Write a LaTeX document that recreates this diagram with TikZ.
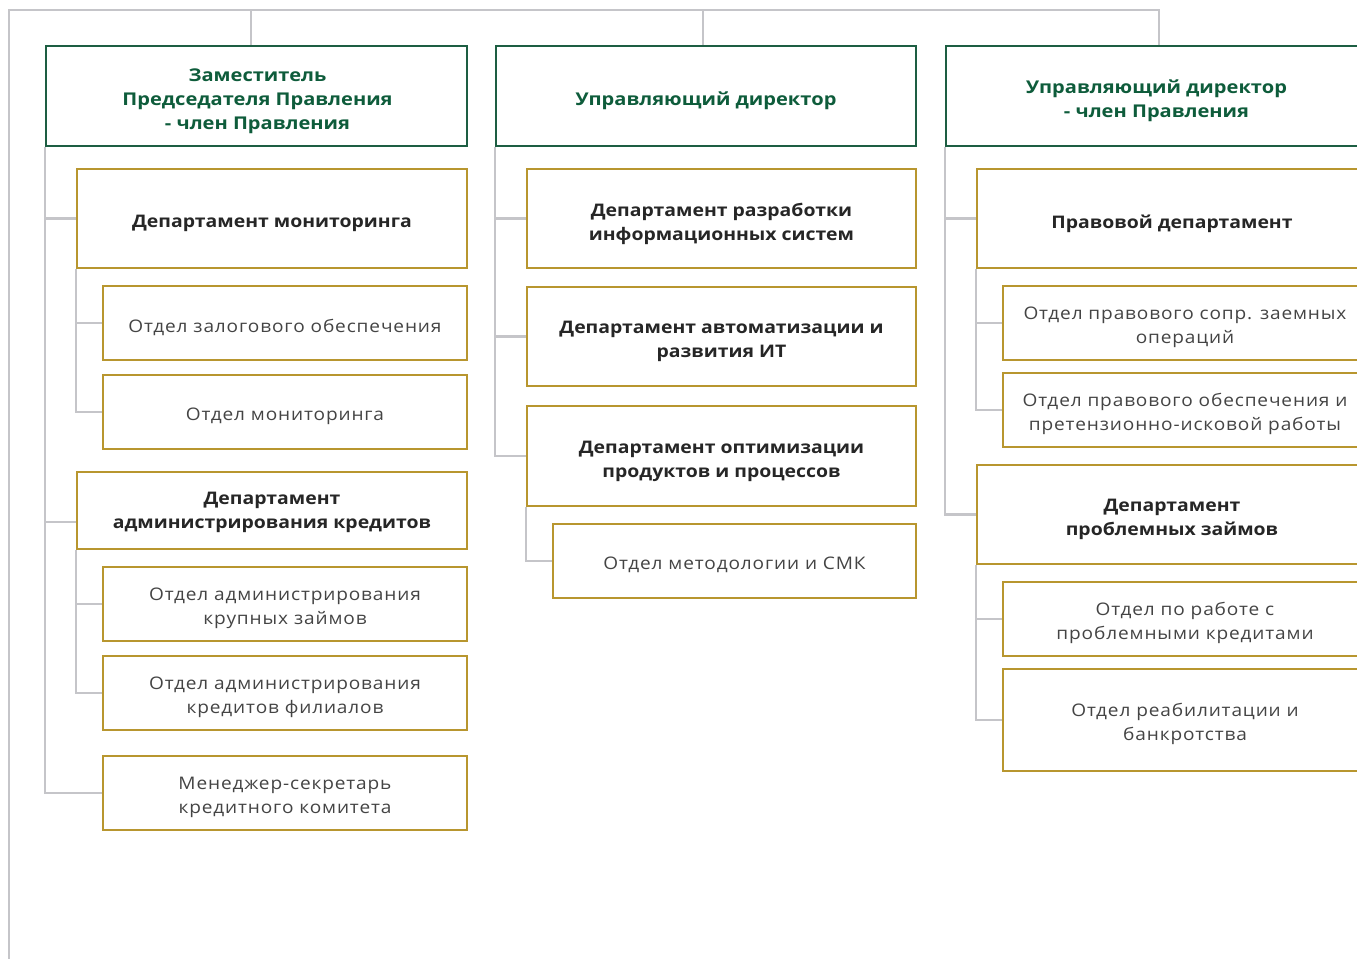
\documentclass[tikz,border=0pt]{standalone}
\usepackage{fontspec}
\setmainfont{Open Sans}
\newfontfamily\boldface[FakeStretch=1.12]{Open Sans}
\newfontfamily\greenface[FakeStretch=1.14]{Open Sans}
\newfontfamily\lightface[FakeStretch=1.1,LetterSpace=5]{Open Sans}
\usetikzlibrary{fit,backgrounds}
\definecolor{grn}{HTML}{1D5E43}
\definecolor{grntxt}{HTML}{0E5C3B}
\definecolor{gold}{HTML}{B8962F}
\definecolor{lgray}{HTML}{C5C5C9}
\definecolor{dtxt}{HTML}{262626}
\definecolor{ltxt}{HTML}{444444}
\tikzset{
  gbox/.style={draw=grn, line width=1.8pt, fill=white, inner sep=0pt},
  dbox/.style={draw=gold, line width=1.8pt, fill=white, inner sep=0pt},
  obox/.style={draw=gold, line width=1.8pt, fill=white, inner sep=0pt},
  gtext/.style={align=center, inner sep=0pt, yshift=-3.7pt, text=grntxt, font=\greenface\bfseries\fontsize{13.2}{18}\selectfont},
  dtext/.style={align=center, inner sep=0pt, yshift=-3.7pt, text=dtxt, font=\boldface\bfseries\fontsize{13}{18}\selectfont},
  otext/.style={align=center, inner sep=0pt, yshift=-3.2pt, text=ltxt, font=\lightface\fontsize{13}{18}\selectfont},
  gline/.style={draw=lgray, line width=1.8pt}
}
\begin{document}
\begin{tikzpicture}[x=0.75pt,y=-0.75pt]
\useasboundingbox (0,0) rectangle (1357,959);
\clip (0,0) rectangle (1357,959);
% top-level boxes
\node[gbox, fit={(46,46)(467,146)}] (g1) {};
\node[gtext] (g1t) at ([xshift=0.75pt]g1.center) {Заместитель\\Председателя Правления\\- член Правления};
\node[gbox, fit={(496,46)(916,146)}] (g2) {};
\node[gtext] (g2t) at (g2.center) {Управляющий директор};
\node[gbox, fit={(946,46)(1367,146)}] (g3) {};
\node[gtext] (g3t) at (g3.center) {Управляющий директор\\- член Правления};
% column 1
\node[dbox, fit={(77,169)(467,268)}] (d1) {};
\node[dtext] (d1t) at (d1.center) {Департамент мониторинга};
\node[obox, fit={(103,286)(467,360)}] (o11) {};
\node[otext] (o11t) at (o11.center) {Отдел залогового обеспечения};
\node[obox, fit={(103,375)(467,449)}] (o12) {};
\node[otext] (o12t) at (o12.center) {Отдел мониторинга};
\node[dbox, fit={(77,472)(467,549)}] (d2) {};
\node[dtext, yshift=2pt] (d2t) at (d2.center) {Департамент\\администрирования кредитов};
\coordinate (d2c) at ([yshift=-8.6pt]d2.west);
\node[obox, fit={(103,567)(467,641)}] (o21) {};
\node[otext] (o21t) at (o21.center) {Отдел администрирования\\крупных займов};
\node[obox, fit={(103,656)(467,730)}] (o22) {};
\node[otext] (o22t) at (o22.center) {Отдел администрирования\\кредитов филиалов};
\node[obox, fit={(103,756)(467,830)}] (ms) {};
\node[otext] (mst) at (ms.center) {Менеджер-секретарь\\кредитного комитета};
% column 2
\node[dbox, fit={(527,169)(916,268)}] (d3) {};
\node[dtext] (d3t) at (d3.center) {Департамент разработки\\информационных систем};
\node[dbox, fit={(527,287)(916,386)}] (d4) {};
\node[dtext] (d4t) at (d4.center) {Департамент автоматизации и\\развития ИТ};
\node[dbox, fit={(527,406)(916,506)}] (d5) {};
\node[dtext] (d5t) at (d5.center) {Департамент оптимизации\\продуктов и процессов};
\node[obox, fit={(553,524)(916,598)}] (o51) {};
\node[otext] (o51t) at (o51.center) {Отдел методологии и СМК};
% column 3
\node[dbox, fit={(977,169)(1367,268)}] (d6) {};
\node[dtext] (d6t) at (d6.center) {Правовой департамент};
\node[obox, fit={(1003,286)(1367,360)}] (o61) {};
\node[otext] (o61t) at (o61.center) {Отдел правового сопр. заемных\\операций};
\node[obox, fit={(1003,373)(1367,447)}] (o62) {};
\node[otext] (o62t) at (o62.center) {Отдел правового обеспечения и\\претензионно-исковой работы};
\node[dbox, fit={(977,465)(1367,564)}] (d7) {};
\node[dtext] (d7t) at (d7.center) {Департамент\\проблемных займов};
\node[obox, fit={(1003,582)(1367,656)}] (o71) {};
\node[otext] (o71t) at (o71.center) {Отдел по работе с\\проблемными кредитами};
\node[obox, fit={(1003,669)(1367,771)}] (o72) {};
\node[otext] (o72t) at (o72.center) {Отдел реабилитации и\\банкротства};
% connectors (behind boxes)
\coordinate (tl) at (9,10);
\coordinate (bl) at (9,959);
\coordinate (tr) at (1159,10);
\begin{scope}[on background layer]
\draw[gline] (bl) -- (tl) -- (tr) -- (tr |- g3.north);
\draw[gline] (g1.north -| 251,0) -- (tl -| 251,0);
\draw[gline] (g2.north -| 703,0) -- (tl -| 703,0);
% col 1
\draw[gline] (g1.south west) |- (ms.west);
\draw[gline] (g1.south west) |- (d1.west);
\draw[gline] (g1.south west) |- (d2c);
\draw[gline] (d1.south west) |- (o12.west);
\draw[gline] (d1.south west) |- (o11.west);
\draw[gline] (d2.south west) |- (o22.west);
\draw[gline] (d2.south west) |- (o21.west);
% col 2
\draw[gline] (g2.south west) |- (d5.west);
\draw[gline] (g2.south west) |- (d3.west);
\draw[gline] (g2.south west) |- (d4.west);
\draw[gline] (d5.south west) |- (o51.west);
% col 3
\draw[gline] (g3.south west) |- (d7.west);
\draw[gline] (g3.south west) |- (d6.west);
\draw[gline] (d6.south west) |- (o62.west);
\draw[gline] (d6.south west) |- (o61.west);
\draw[gline] (d7.south west) |- (o72.west);
\draw[gline] (d7.south west) |- (o71.west);
\end{scope}
\end{tikzpicture}
\end{document}
